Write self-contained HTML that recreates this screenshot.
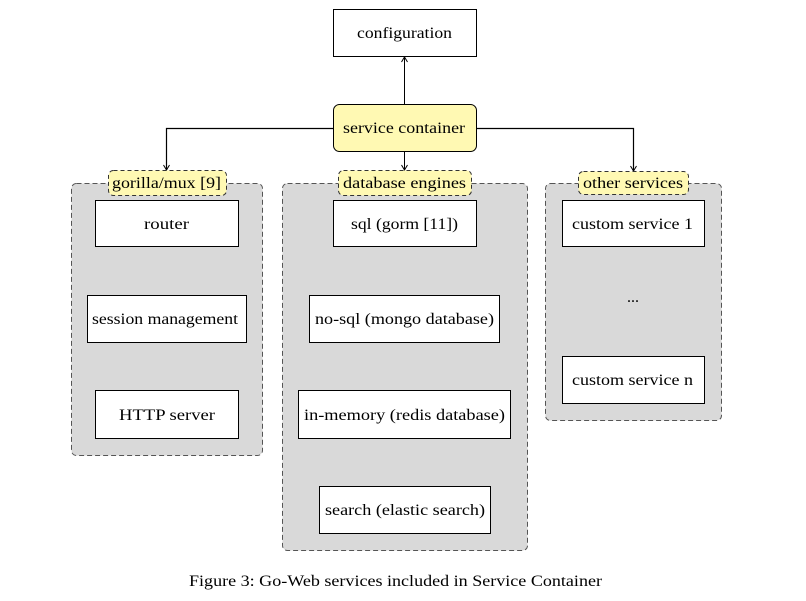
<!DOCTYPE html>
<html><head><meta charset="utf-8"><style>
html,body{margin:0;padding:0;background:#fff;}
svg{display:block;}
text{font-family:"Liberation Serif",serif;font-size:16px;fill:#000;}
</style></head><body>
<svg width="806" height="601" viewBox="0 0 806 601" xmlns="http://www.w3.org/2000/svg">
<defs><marker id="a" markerWidth="8" markerHeight="8" refX="6" refY="4" orient="auto" markerUnits="userSpaceOnUse"><path d="M1,1 L6,4 L1,7" fill="none" stroke="#000" stroke-width="1"/></marker></defs>
<rect x="71.5" y="183.5" width="191" height="272" rx="5" fill="#d9d9d9" stroke="#555" stroke-dasharray="5,3"/>
<rect x="282.5" y="183.5" width="245" height="367" rx="5" fill="#d9d9d9" stroke="#555" stroke-dasharray="5,3"/>
<rect x="545.5" y="183.5" width="176" height="237" rx="5" fill="#d9d9d9" stroke="#555" stroke-dasharray="5,3"/>
<line x1="404.5" y1="104" x2="404.5" y2="57" stroke="#000" marker-end="url(#a)"/>
<polyline points="333,128.5 166.5,128.5 166.5,170" fill="none" stroke="#000" stroke-width="1.2" marker-end="url(#a)"/>
<polyline points="476,128.5 633.5,128.5 633.5,171" fill="none" stroke="#000" stroke-width="1.2" marker-end="url(#a)"/>
<line x1="404.5" y1="152" x2="404.5" y2="170" stroke="#000" marker-end="url(#a)"/>
<rect x="333.5" y="9.5" width="143" height="47" fill="#fff" stroke="#000"/>
<text x="357" y="38" textLength="95" lengthAdjust="spacingAndGlyphs">configuration</text>
<rect x="333.5" y="104.5" width="143" height="47" rx="6" fill="#fff9b3" stroke="#000"/>
<text x="343" y="133" textLength="122" lengthAdjust="spacingAndGlyphs">service container</text>
<rect x="108.5" y="170.5" width="118" height="25" rx="5" fill="#fff9b3" stroke="#333" stroke-dasharray="4,3"/>
<text x="112" y="188" textLength="109" lengthAdjust="spacingAndGlyphs">gorilla/mux [9]</text>
<rect x="338.5" y="170.5" width="133" height="25" rx="5" fill="#fff9b3" stroke="#333" stroke-dasharray="4,3"/>
<text x="343" y="188" textLength="123" lengthAdjust="spacingAndGlyphs">database engines</text>
<rect x="578.5" y="171.5" width="110" height="23" rx="5" fill="#fff9b3" stroke="#333" stroke-dasharray="4,3"/>
<text x="583" y="188" textLength="100" lengthAdjust="spacingAndGlyphs">other services</text>
<rect x="95.5" y="200.5" width="143" height="46" fill="#fff" stroke="#000"/>
<text x="144" y="229" textLength="45" lengthAdjust="spacingAndGlyphs">router</text>
<rect x="87.5" y="295.5" width="159" height="47" fill="#fff" stroke="#000"/>
<text x="92" y="324" textLength="146" lengthAdjust="spacingAndGlyphs">session management</text>
<rect x="95.5" y="390.5" width="143" height="48" fill="#fff" stroke="#000"/>
<text x="119" y="420" textLength="96" lengthAdjust="spacingAndGlyphs">HTTP server</text>
<rect x="333.5" y="200.5" width="143" height="46" fill="#fff" stroke="#000"/>
<text x="351" y="229" textLength="107" lengthAdjust="spacingAndGlyphs">sql (gorm [11])</text>
<rect x="309.5" y="295.5" width="190" height="47" fill="#fff" stroke="#000"/>
<text x="315" y="324" textLength="179" lengthAdjust="spacingAndGlyphs">no-sql (mongo database)</text>
<rect x="298.5" y="390.5" width="212" height="48" fill="#fff" stroke="#000"/>
<text x="304" y="420" textLength="201" lengthAdjust="spacingAndGlyphs">in-memory (redis database)</text>
<rect x="319.5" y="486.5" width="171" height="47" fill="#fff" stroke="#000"/>
<text x="325" y="515" textLength="160" lengthAdjust="spacingAndGlyphs">search (elastic search)</text>
<rect x="562.5" y="200.5" width="142" height="46" fill="#fff" stroke="#000"/>
<text x="572" y="229" textLength="121" lengthAdjust="spacingAndGlyphs">custom service 1</text>
<text x="633" y="302" text-anchor="middle">...</text>
<rect x="562.5" y="356.5" width="142" height="47" fill="#fff" stroke="#000"/>
<text x="572" y="385" textLength="121" lengthAdjust="spacingAndGlyphs">custom service n</text>
<text x="189" y="586" textLength="413" lengthAdjust="spacingAndGlyphs">Figure 3: Go-Web services included in Service Container</text>
</svg>
</body></html>
